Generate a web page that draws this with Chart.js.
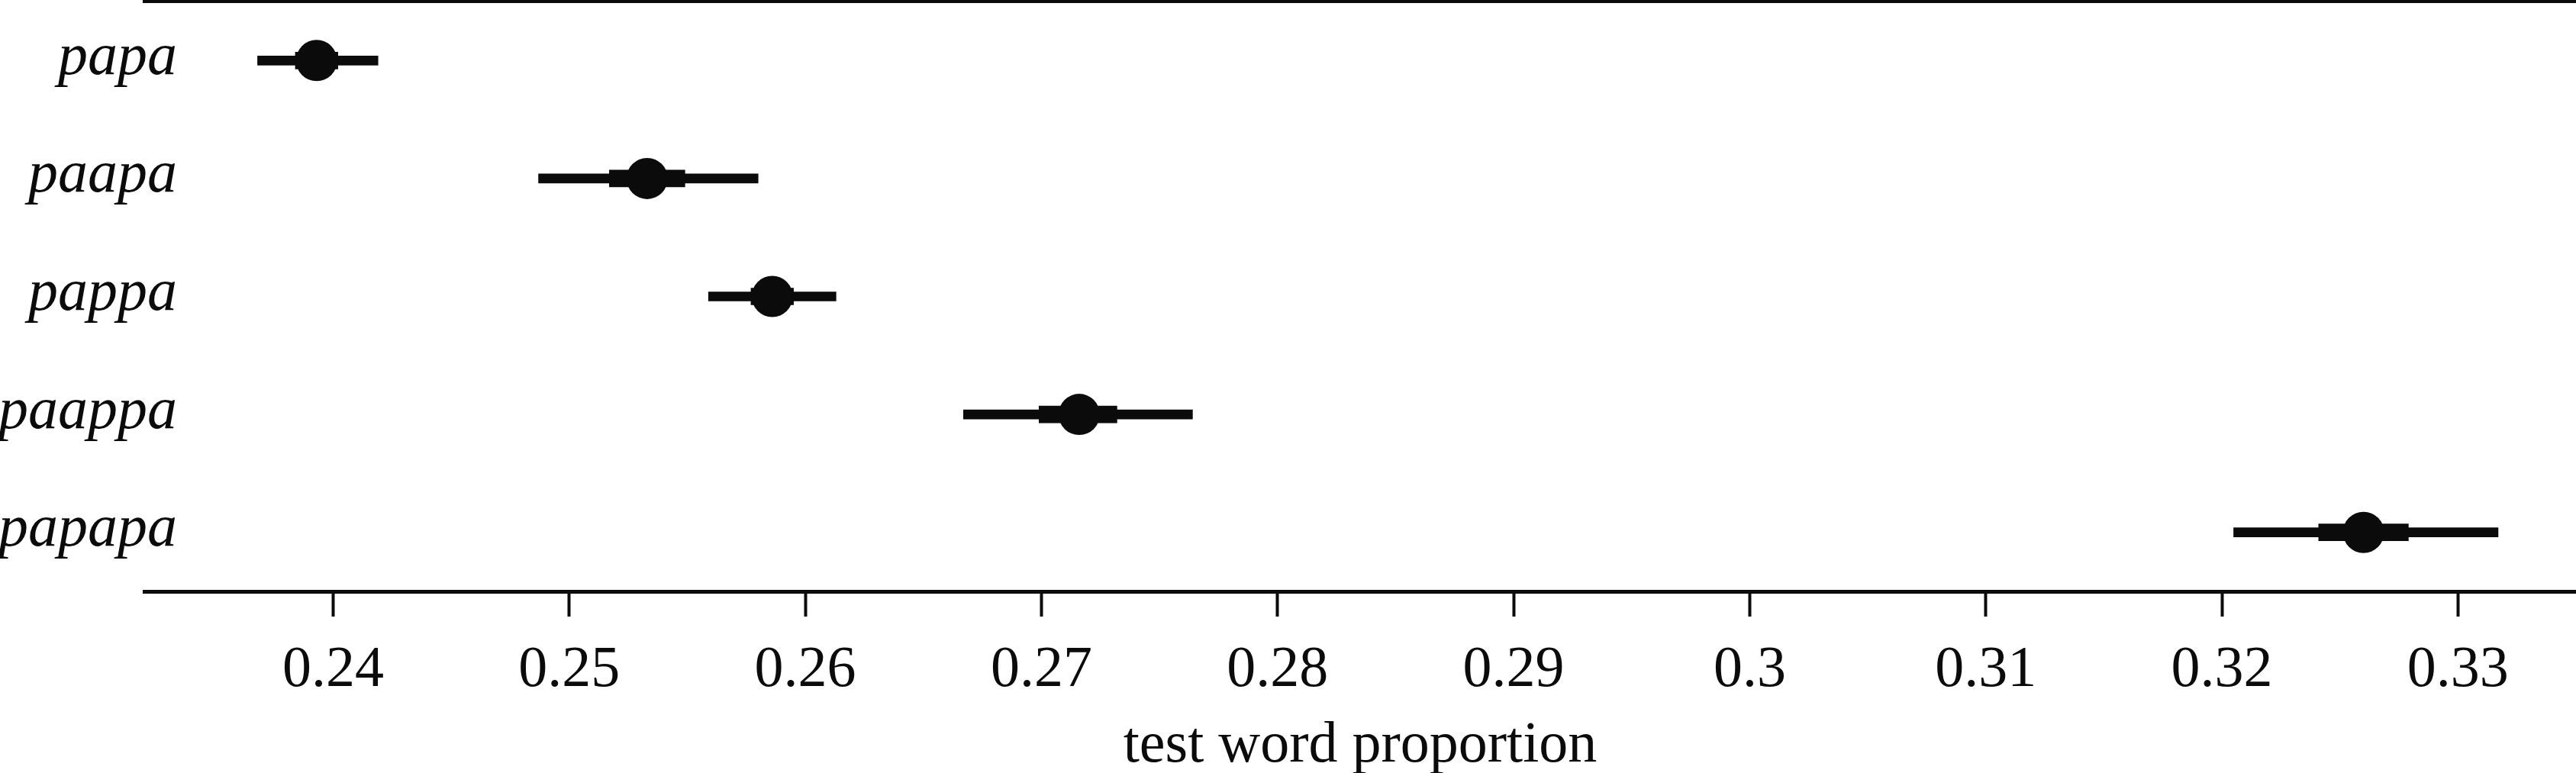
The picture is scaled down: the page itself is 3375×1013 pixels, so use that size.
<!DOCTYPE html>
<html>
<head>
<meta charset="utf-8">
<title>test word proportion</title>
<script src="https://cdn.jsdelivr.net/npm/chart.js@4/dist/chart.umd.min.js"></script>
<style>
  html, body { margin: 0; padding: 0; background: #fff; }
  #wrap { width: 3375px; height: 1013px; }
</style>
</head>
<body>
<div id="wrap"><canvas id="forest" width="3375" height="1013"></canvas></div>
<script>
// Test words (top to bottom)
const words = ['papa', 'paapa', 'pappa', 'paappa', 'papapa'];

// Point estimates
const means = [0.2393, 0.2533, 0.2586, 0.2716, 0.3260];

// Outer (thin) interval
const outerLow = [0.2368, 0.2487, 0.2559, 0.2667, 0.3205];
const outerHigh = [0.2419, 0.2580, 0.2613, 0.2764, 0.3317];

// Inner (thick) interval
const innerLow = [0.2384, 0.2517, 0.2577, 0.2699, 0.3241];
const innerHigh = [0.2402, 0.2549, 0.2595, 0.2732, 0.3279];

// X axis ticks
const tickValues = [0.24, 0.25, 0.26, 0.27, 0.28, 0.29, 0.30, 0.31, 0.32, 0.33];
const tickLabels = ['0.24', '0.25', '0.26', '0.27', '0.28', '0.29', '0.3', '0.31', '0.32', '0.33'];

(function() {
    'use strict';

    const ink = '#0b0b0b';
    const serif = "'Liberation Serif', 'Times New Roman', serif";

    // keep the axes from asking for extra room around the plot
    function noPadding(scale) {
        scale.paddingTop = 0;
        scale.paddingBottom = 0;
        scale.paddingLeft = 0;
        scale.paddingRight = 0;
    }

    function initChart() {
        const canvas = document.getElementById('forest');
        if (!canvas || typeof Chart === 'undefined') {
            return;
        }

        const outer = words.map((w, i) => [outerLow[i], outerHigh[i]]);
        const inner = words.map((w, i) => [innerLow[i], innerHigh[i]]);
        const dots = words.map((w, i) => ({ x: means[i], y: w }));

        new Chart(canvas.getContext('2d'), {
            type: 'bar',
            data: {
                labels: words,
                datasets: [
                    {
                        type: 'line',
                        label: 'estimate',
                        data: dots,
                        showLine: false,
                        pointRadius: 27,
                        pointHoverRadius: 27,
                        pointBackgroundColor: ink,
                        pointBorderWidth: 0,
                        order: 0
                    },
                    {
                        label: 'inner',
                        data: inner,
                        backgroundColor: ink,
                        borderWidth: 0,
                        barThickness: 22,
                        grouped: false,
                        order: 1
                    },
                    {
                        label: 'outer',
                        data: outer,
                        backgroundColor: ink,
                        borderWidth: 0,
                        barThickness: 12,
                        grouped: false,
                        order: 2
                    }
                ]
            },
            options: {
                indexAxis: 'y',
                responsive: false,
                animation: false,
                devicePixelRatio: 1,
                layout: {
                    autoPadding: false,
                    padding: { top: 2, right: 0, bottom: 0, left: 0 }
                },
                plugins: {
                    legend: { display: false },
                    tooltip: { enabled: false }
                },
                scales: {
                    x: {
                        type: 'linear',
                        position: 'bottom',
                        min: 0.232,
                        max: 0.335,
                        afterBuildTicks: function(scale) {
                            scale.ticks = tickValues.map(v => ({ value: v }));
                        },
                        afterFit: function(scale) {
                            scale.height = 238;
                            noPadding(scale);
                        },
                        grid: {
                            drawOnChartArea: false,
                            drawTicks: true,
                            tickLength: 33,
                            tickWidth: 4,
                            tickColor: ink
                        },
                        border: {
                            display: true,
                            color: ink,
                            width: 5
                        },
                        ticks: {
                            color: ink,
                            padding: 25,
                            maxRotation: 0,
                            autoSkip: false,
                            font: { family: serif, size: 76 },
                            callback: function(value, index) {
                                return tickLabels[index];
                            }
                        },
                        title: {
                            display: true,
                            text: 'test word proportion',
                            color: ink,
                            padding: { top: 0, bottom: -11 },
                            font: { family: serif, size: 76 }
                        }
                    },
                    xTop: {
                        type: 'linear',
                        position: 'top',
                        min: 0,
                        max: 1,
                        afterFit: function(scale) {
                            scale.height = 0;
                            noPadding(scale);
                        },
                        grid: { display: false, drawTicks: false },
                        ticks: { display: false },
                        border: {
                            display: true,
                            color: ink,
                            width: 4
                        }
                    },
                    y: {
                        type: 'category',
                        offset: true,
                        afterFit: function(scale) {
                            scale.width = 189;
                            noPadding(scale);
                        },
                        grid: { display: false, drawTicks: false },
                        border: { display: false },
                        ticks: {
                            color: ink,
                            mirror: true,
                            crossAlign: 'far',
                            padding: -191,
                            labelOffset: -3,
                            font: { family: serif, size: 78, style: 'italic' }
                        }
                    }
                }
            }
        });
    }

    if (document.readyState === 'loading') {
        document.addEventListener('DOMContentLoaded', initChart);
    } else {
        initChart();
    }
})();
</script>
</body>
</html>
